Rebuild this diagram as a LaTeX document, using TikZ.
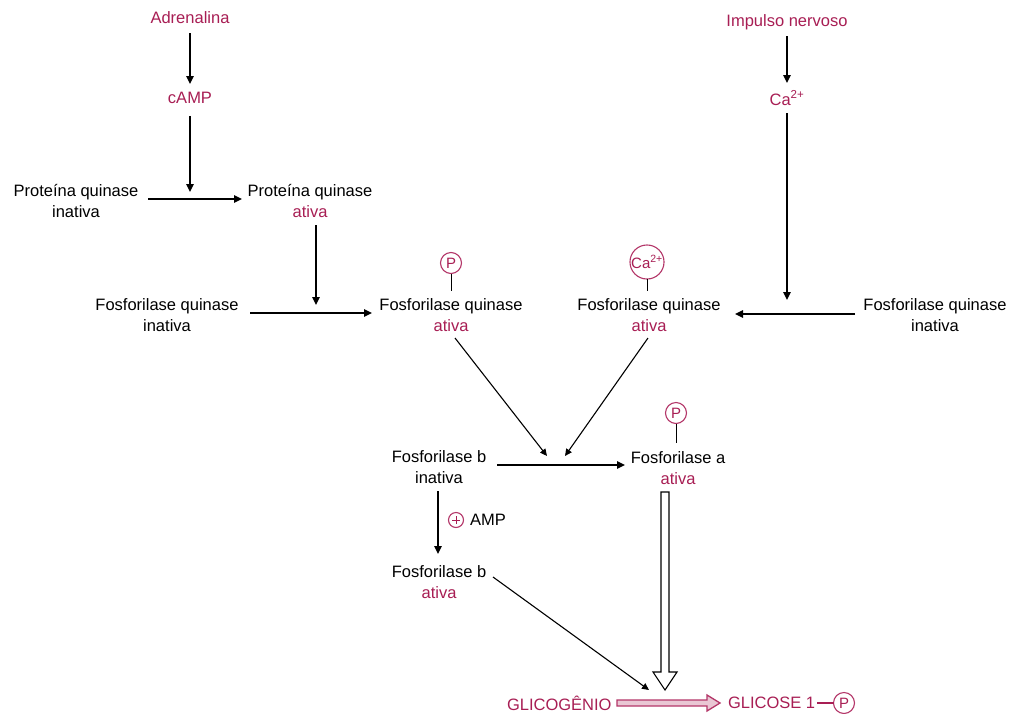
\documentclass[tikz,border=0pt]{standalone}
\usepackage{fontspec}
\setmainfont{Liberation Sans}
\usetikzlibrary{arrows.meta}
\definecolor{pk}{RGB}{168,30,84}
\definecolor{pkc}{RGB}{180,55,105}
\begin{document}
\begin{tikzpicture}[x=1pt,y=-1pt,
  every node/.style={inner sep=0pt, outer sep=0pt},
  lbl/.style={align=center, font=\fontsize{16.5}{21}\selectfont},
  plbl/.style={lbl, text=pk},
  arr/.style={line width=1.4pt, -{Triangle[length=8pt,width=7.5pt]}},
  thin arr/.style={line width=1.1pt, -{Triangle[length=7pt,width=6.5pt]}},
  pcirc/.style={circle, draw=pkc, line width=1.1pt, text=pk, font=\fontsize{15}{15}\selectfont, minimum size=21pt},
  stalk/.style={line width=1pt, draw=black}]
\useasboundingbox[fill=white] (0,0) rectangle (1010,713);

% left branch
\node[plbl] (adr) at (190,18) {Adrenalina};
\node[plbl] (camp) at (190,98) {cAMP};
\node[lbl] (pqi) at (76,201) {Proteína quinase\\inativa};
\node[lbl] (pqa) at (310,201) {Proteína quinase\\\textcolor{pk}{ativa}};
\coordinate (c1) at (190,192);
\coordinate (c1a) at (148,199);
\coordinate (c1b) at (242,199);
\draw[arr] (adr.south) ++(0,9) -- (190,84);
\draw[arr] (camp.south) ++(0,12) -- (c1);
\draw[arr] (c1a) -- (c1b);

\node[lbl] (fqi1) at (167,315) {Fosforilase quinase\\inativa};
\node[lbl] (fqa1) at (451,315) {Fosforilase quinase\\\textcolor{pk}{ativa}};
\coordinate (c2) at (316,305);
\draw[arr] (316,225) -- (c2);
\draw[arr] (250,313) -- (372,313);
\node[pcirc] (p1) at (451,263) {P};
\draw[stalk] (p1.south) -- (451,291);

% right branch
\node[plbl] (imp) at (787,22) {Impulso nervoso};
\node[plbl] (ca) at (787,98) {Ca\textsuperscript{2+}};
\draw[arr] (787,36) -- (787,83);
\coordinate (c3) at (787,300);
\draw[arr] (787,113) -- (c3);
\node[lbl] (fqi2) at (935,315) {Fosforilase quinase\\inativa};
\node[lbl] (fqa2) at (649,315) {Fosforilase quinase\\\textcolor{pk}{ativa}};
\draw[arr] (855,314) -- (735,314);
\node[pcirc, minimum size=28pt, font=\fontsize{15}{15}\selectfont] (p2) at (647,262) {Ca\textsuperscript{2+}};
\draw[stalk] (p2.south) -- (647,291);

% phosphorylase
\node[lbl] (fbi) at (439,467) {Fosforilase b\\inativa};
\node[lbl] (fa) at (678,468) {Fosforilase a\\\textcolor{pk}{ativa}};
\node[pcirc] (p3) at (676,413) {P};
\draw[stalk] (p3.south) -- (676,443);
\coordinate (c4) at (547,456);
\coordinate (c5) at (565,456);
\draw[thin arr] (455,338) -- (c4);
\draw[thin arr] (648,338) -- (c5);
\draw[arr] (497,465) -- (625,465);

\node[lbl] (fba) at (439,582) {Fosforilase b\\\textcolor{pk}{ativa}};
\draw[arr] (438,491) -- (438,554);
\node[circle, draw=pkc, line width=1.1pt, minimum size=15pt] (plus) at (456,520) {};
\draw[pk, line width=1pt] (plus.center) ++(-4,0) -- ++(8,0) (plus.center) ++(0,-4) -- ++(0,8);
\node[lbl, anchor=west] (amp) at (470,520) {AMP};

% bottom
\node[plbl, anchor=west] (glic) at (507,703) {GLICOGÊNIO};
\node[plbl, anchor=west] (glc) at (728,703) {GLICOSE 1};
\node[pcirc, minimum size=21pt] (p4) at (844,703) {P};
\draw[pk, line width=1.3pt] (glc.east) ++(2,0) -- (p4.west);
\coordinate (c6) at (649,690);
\draw[thin arr] (493,577) -- (c6);
% hollow vertical arrow
\draw[line width=1.1pt, fill=white] (661,492) -- (669,492) -- (669,672) -- (677,672) -- (665,690) -- (653,672) -- (661,672) -- cycle;
% double pink arrow
\draw[pkc, line width=1.3pt, fill=pk!25] (617,700) -- (707,700) -- (707,695) -- (720,703) -- (707,711) -- (707,706) -- (617,706) -- cycle;
\end{tikzpicture}
\end{document}
